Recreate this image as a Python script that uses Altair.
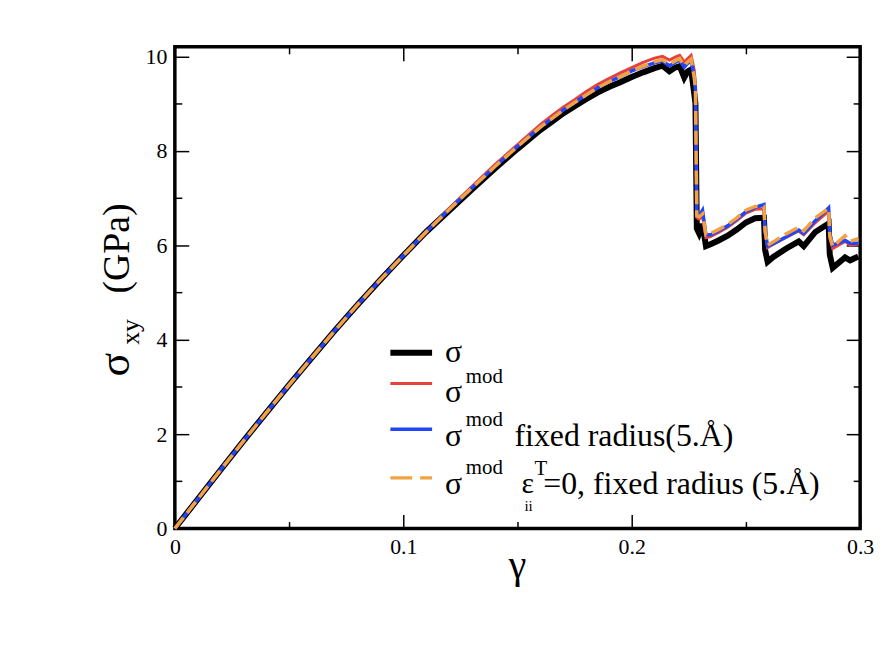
import altair as alt
import pandas as pd

# ---------------- data ----------------
GAMMA = [0, 0.01, 0.02, 0.03, 0.04, 0.05, 0.06, 0.07, 0.08, 0.09, 0.10,
         0.11, 0.12, 0.13, 0.14, 0.15, 0.16,
         0.165, 0.17, 0.175, 0.18, 0.185, 0.19, 0.195, 0.20, 0.205, 0.21,
         0.2135, 0.2165, 0.219, 0.221, 0.223, 0.2245, 0.226, 0.2274, 0.2279, 0.2285,
         0.2295, 0.231, 0.2325, 0.2345, 0.238, 0.242, 0.246, 0.25, 0.254, 0.2579,
         0.2584, 0.2595, 0.262, 0.2673, 0.2731, 0.2753, 0.2804, 0.2862, 0.2867, 0.2880,
         0.2934, 0.2956, 0.2992]

SIGMA = [0, 0.62, 1.24, 1.85, 2.45, 3.04, 3.62, 4.19, 4.74, 5.27, 5.78,
         6.28, 6.73, 7.18, 7.62, 8.04, 8.44,
         8.61, 8.79, 8.94, 9.09, 9.23, 9.35, 9.45, 9.56, 9.66, 9.75,
         9.80, 9.68, 9.76, 9.79, 9.55, 9.68, 9.72, 9.20, 9.00, 6.35,
         6.25, 6.45, 5.98, 6.02, 6.10, 6.20, 6.33, 6.48, 6.57, 6.58,
         5.90, 5.65, 5.75, 5.92, 6.08, 5.98, 6.28, 6.46, 5.80, 5.52,
         5.74, 5.68, 5.76]

SIGMA_MOD = [0, 0.62, 1.24, 1.85, 2.45, 3.04, 3.62, 4.19, 4.74, 5.27, 5.78,
             6.28, 6.77, 7.24, 7.70, 8.13, 8.55,
             8.74, 8.92, 9.08, 9.25, 9.40, 9.53, 9.65, 9.76, 9.87, 9.96,
             10.00, 9.92, 9.98, 10.02, 9.88, 9.95, 10.02, 9.70, 9.40, 6.58,
             6.55, 6.62, 6.16, 6.18, 6.27, 6.38, 6.52, 6.68, 6.76, 6.77,
             6.25, 5.95, 6.02, 6.16, 6.30, 6.22, 6.48, 6.72, 6.15, 5.93,
             6.08, 6.00, 6.02]

SIGMA_MOD_FIXED = [0, 0.62, 1.24, 1.85, 2.45, 3.04, 3.62, 4.19, 4.74, 5.27, 5.78,
                   6.28, 6.75, 7.21, 7.66, 8.09, 8.50,
                   8.68, 8.86, 9.02, 9.18, 9.33, 9.46, 9.57, 9.69, 9.78, 9.86,
                   9.90, 9.80, 9.87, 9.92, 9.77, 9.85, 9.91, 9.55, 9.30, 6.62,
                   6.62, 6.74, 6.22, 6.22, 6.30, 6.41, 6.55, 6.71, 6.80, 6.86,
                   6.30, 5.98, 6.03, 6.17, 6.32, 6.25, 6.52, 6.79, 6.25, 6.00,
                   6.10, 6.04, 6.04]

SIGMA_MOD_EPS0 = [0, 0.62, 1.24, 1.85, 2.45, 3.04, 3.62, 4.19, 4.74, 5.27, 5.78,
                  6.28, 6.75, 7.21, 7.66, 8.09, 8.50,
                  8.68, 8.86, 9.02, 9.18, 9.33, 9.46, 9.57, 9.69, 9.79, 9.88,
                  9.93, 9.83, 9.90, 9.95, 9.80, 9.88, 9.94, 9.55, 9.30, 6.62,
                  6.60, 6.66, 6.22, 6.25, 6.33, 6.44, 6.58, 6.74, 6.82, 6.82,
                  6.30, 6.00, 6.07, 6.23, 6.38, 6.30, 6.58, 6.78, 6.20, 5.97,
                  6.20, 6.08, 6.14]

X_MAJOR = [0, 0.1, 0.2, 0.3]
X_MINOR = [0.05, 0.15, 0.25]
Y_MAJOR = [0, 2, 4, 6, 8, 10]
Y_MINOR = [1, 3, 5, 7, 9]

FONT = "Liberation Serif"
C_BLACK = "#000000"
C_RED = "#e8413b"
C_BLUE = "#2046f5"
C_ORANGE = "#f2a243"

W, H = 690, 485

def frame(values):
    return pd.DataFrame({"g": GAMMA, "v": values})

xs = alt.Scale(domain=[0, 0.3], nice=False, zero=False)
ys = alt.Scale(domain=[0, 10.2], nice=False, zero=False)

MAJ, MIN = 14, 7

def axis(orient, values, size, labels, fmt):
    return alt.Axis(orient=orient, values=values, tickSize=size, offset=-size,
                    labels=labels, title=None, domain=False, grid=False,
                    tickColor="black", tickWidth=1.5, labelPadding=8,
                    labelFont=FONT, labelFontSize=22, labelColor="black",
                    format=fmt, labelFlush=False, labelOverlap=False)

l_black = alt.Chart(frame(SIGMA)).mark_line(color=C_BLACK, strokeWidth=6).encode(
    x=alt.X("g:Q", scale=xs, axis=axis("bottom", X_MAJOR, MAJ, True, "~g")),
    y=alt.Y("v:Q", scale=ys, axis=axis("left", Y_MAJOR, MAJ, True, "d")))

l_red = alt.Chart(frame(SIGMA_MOD)).mark_line(color=C_RED, strokeWidth=3).encode(
    x=alt.X("g:Q", scale=xs, axis=axis("bottom", X_MINOR, MIN, False, "~g")),
    y=alt.Y("v:Q", scale=ys, axis=axis("left", Y_MINOR, MIN, False, "d")))

l_blue = alt.Chart(frame(SIGMA_MOD_FIXED)).mark_line(color=C_BLUE, strokeWidth=3.5).encode(
    x=alt.X("g:Q", scale=xs, axis=axis("top", X_MAJOR, MAJ, False, "~g")),
    y=alt.Y("v:Q", scale=ys, axis=axis("right", Y_MAJOR, MAJ, False, "d")))

l_orange = alt.Chart(frame(SIGMA_MOD_EPS0)).mark_line(
    color=C_ORANGE, strokeWidth=3.5, strokeDash=[14, 6]).encode(
    x=alt.X("g:Q", scale=xs, axis=axis("top", X_MINOR, MIN, False, "~g")),
    y=alt.Y("v:Q", scale=ys, axis=axis("right", Y_MINOR, MIN, False, "d")))

# ---------------- legend (drawn by hand) ----------------
one = pd.DataFrame({"k": [0]})

def rule(x1, x2, y, color, width, dash=None):
    kw = dict(color=color, strokeWidth=width)
    if dash:
        kw["strokeDash"] = dash
    return alt.Chart(one).mark_rule(**kw).encode(
        x=alt.value(x1), x2=alt.value(x2), y=alt.value(y))

def txt(s, x, y, size, angle=0, align="left", baseline="alphabetic"):
    return alt.Chart(one).mark_text(text=s, font=FONT, fontSize=size, color="black",
                                    align=align, baseline=baseline, angle=angle).encode(
        x=alt.value(x), y=alt.value(y))

LX1, LX2 = 217, 259
legend = [
    rule(LX1, LX2, 308, C_BLACK, 6),
    rule(LX1, LX2, 339, C_RED, 3),
    rule(LX1, LX2, 385, C_BLUE, 3.5),
    rule(LX1, LX2, 434, C_ORANGE, 3.5, [22, 8]),
    txt("σ", 272, 317, 32),
    txt("σ", 272, 358, 32), txt("mod", 293, 338, 21),
    txt("σ", 272, 402, 32), txt("mod", 293, 382, 21),
    txt("fixed radius(5.Å)", 342, 402, 32),
    txt("σ", 272, 450, 32), txt("mod", 293, 430, 21),
    txt("ε", 349, 449, 30), txt("ii", 352, 467, 15), txt("T", 362, 431, 21),
    txt("=0, fixed radius (5.Å)", 371, 450, 32),
]

# axis titles
titles = [
    txt("γ", 345, 535, 40, align="center"),
    txt("σ", -46, 320, 44, angle=270, align="center"),
    txt("xy", -36, 287, 26, angle=270, align="center"),
    txt("(GPa)", -46, 203, 38, angle=270, align="center"),
]

chart = alt.layer(l_black, l_red, l_blue, l_orange, *legend, *titles).resolve_axis(
    x="independent", y="independent"
).properties(
    width=W, height=H,
    autosize=alt.AutoSizeParams(type="none"),
    padding={"left": 168, "top": 37, "right": 20, "bottom": 90},
    background="white",
).configure_view(stroke="black", strokeWidth=3.5)

chart.save("out.html", embed_options={"renderer": "svg", "actions": False})
